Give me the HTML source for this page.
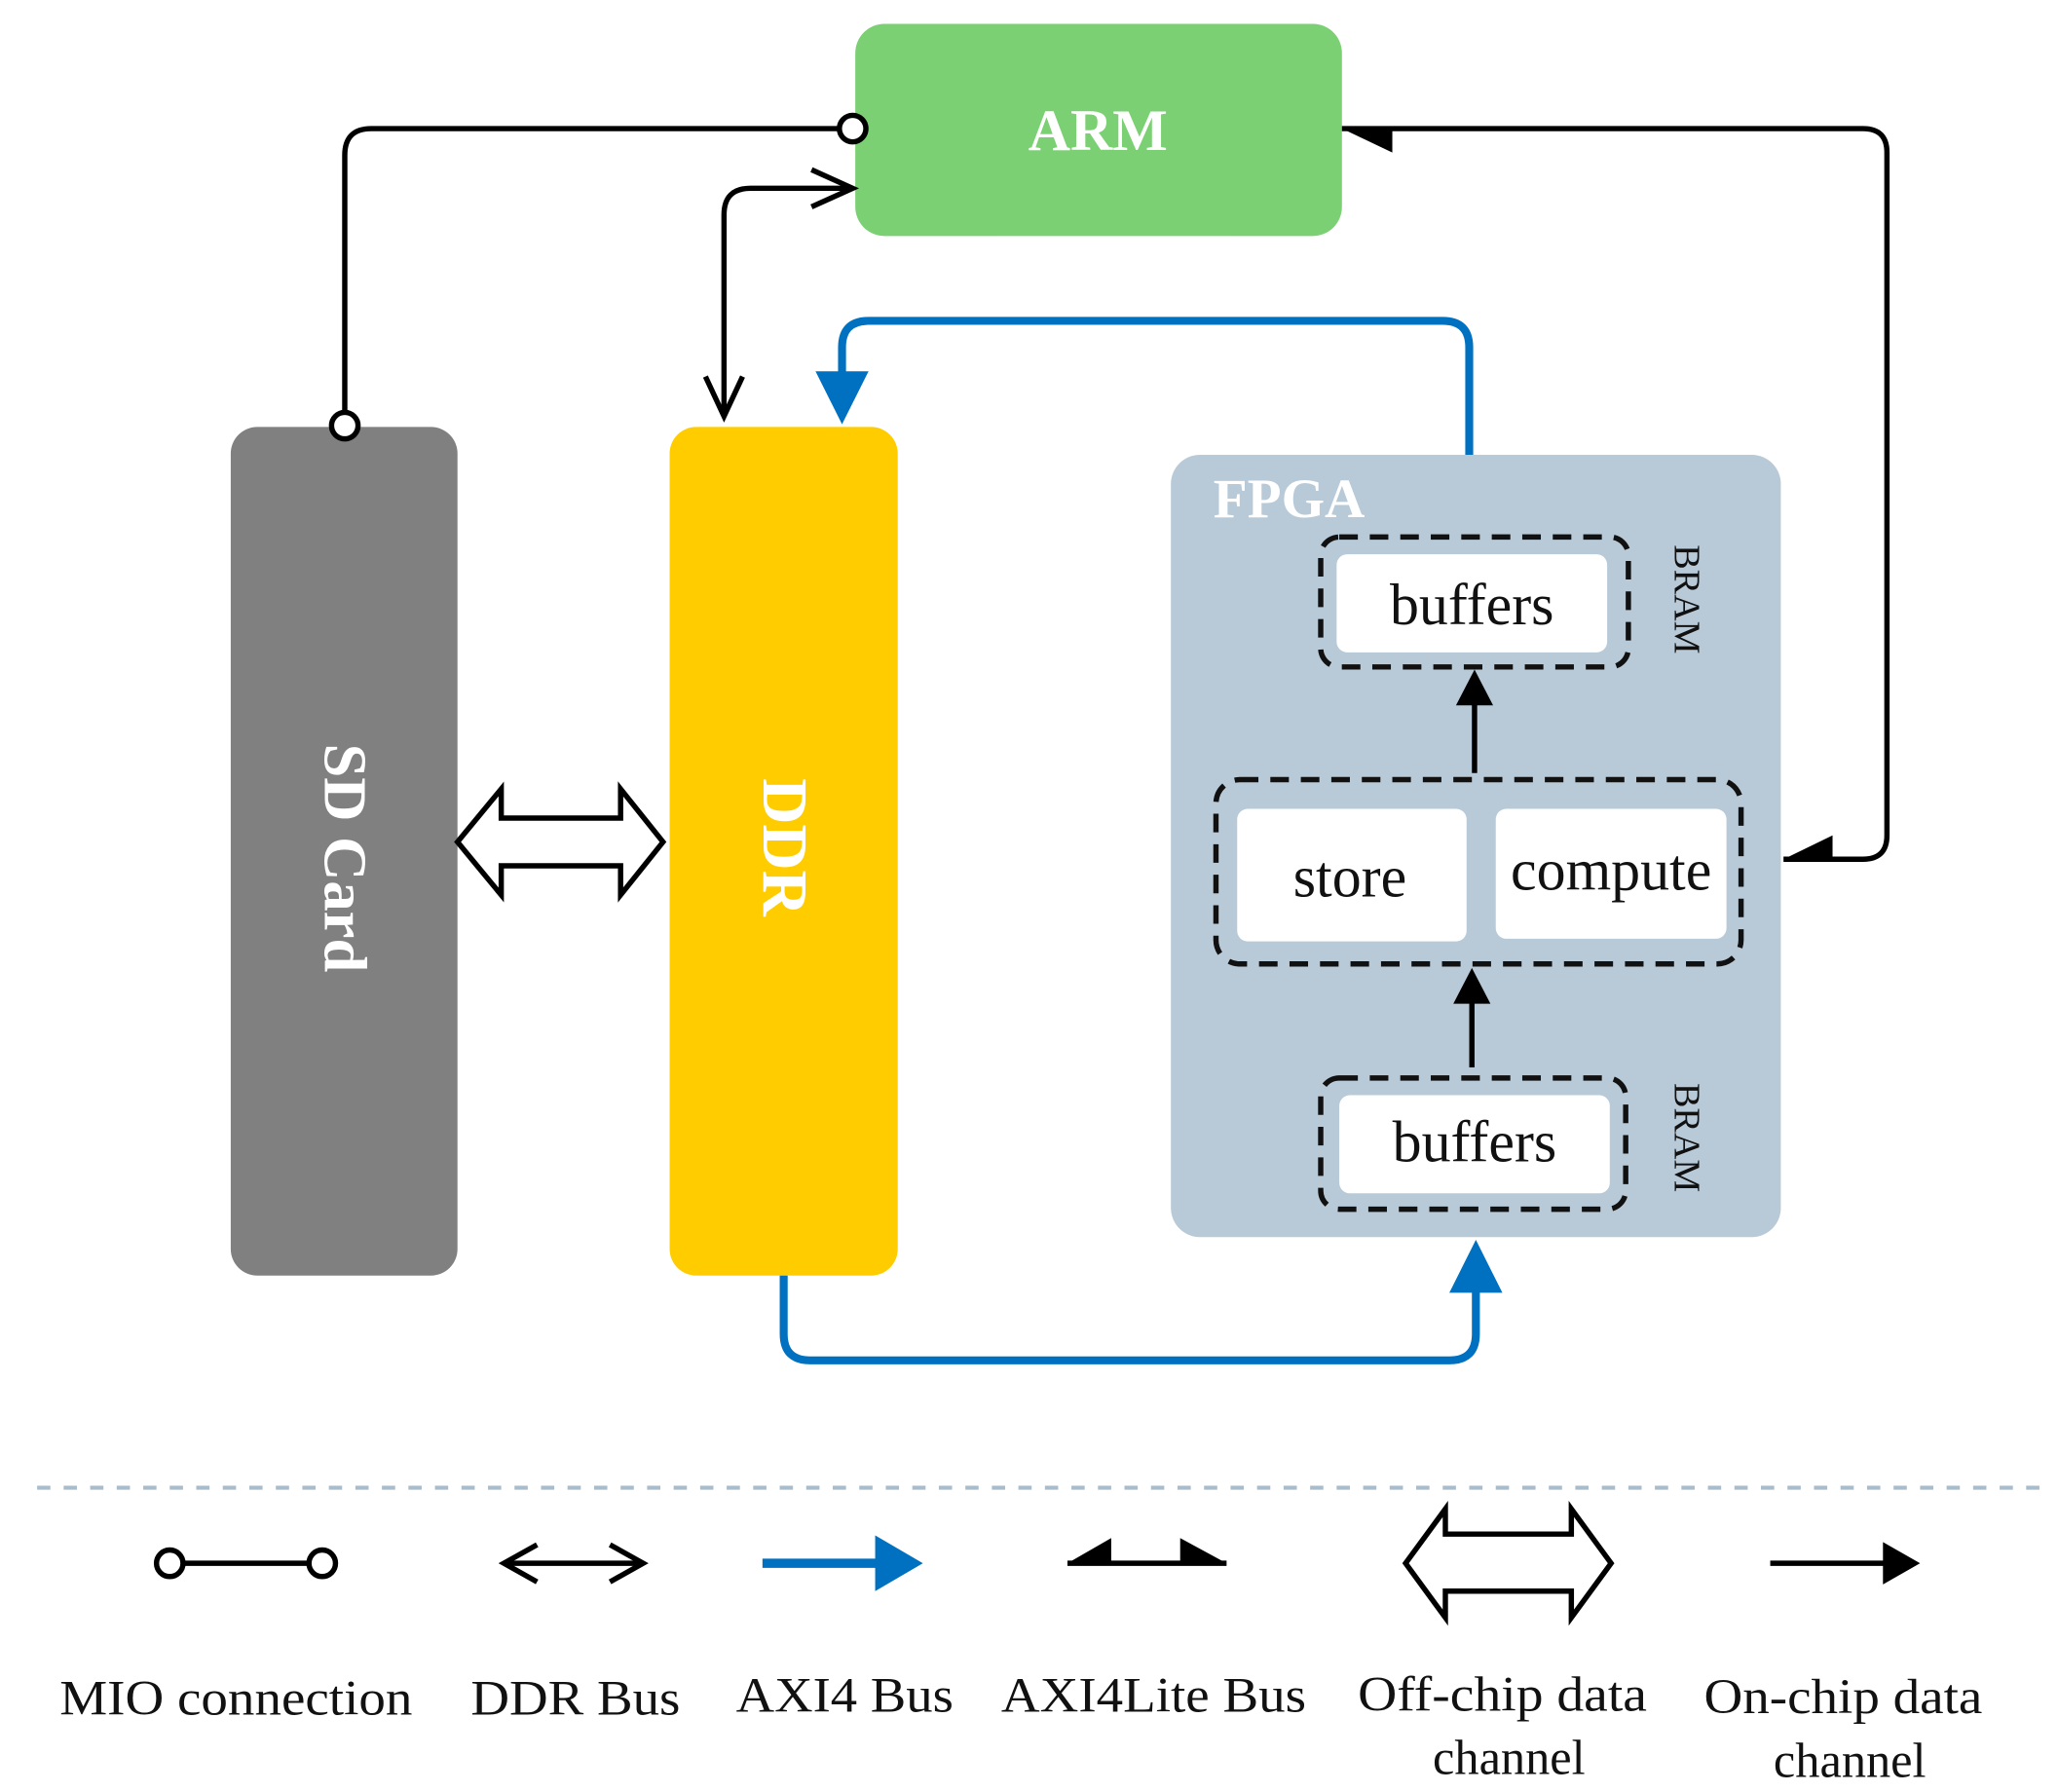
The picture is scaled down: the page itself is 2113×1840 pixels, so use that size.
<!DOCTYPE html>
<html><head><meta charset="utf-8"><style>html,body{margin:0;padding:0;background:#fff}svg{display:block}</style></head>
<body>
<svg width="2113" height="1840" viewBox="0 0 1552 1351.5" xmlns="http://www.w3.org/2000/svg" font-family="Liberation Serif, serif">
<!-- boxes -->
<rect x="645" y="18" width="367" height="160" rx="22" fill="#7bd073"/>
<text x="828" y="113" font-size="44" font-weight="bold" fill="#fff" text-anchor="middle">ARM</text>
<rect x="174" y="322" width="171" height="640" rx="20" fill="#808080"/>
<text transform="translate(245,647) rotate(90)" font-size="46" font-weight="bold" fill="#fff" text-anchor="middle">SD Card</text>
<rect x="505" y="322" width="172" height="640" rx="20" fill="#ffcc00"/>
<text transform="translate(576,639) rotate(90)" font-size="48" font-weight="bold" fill="#fff" text-anchor="middle">DDR</text>
<rect x="883" y="343" width="460" height="590" rx="22" fill="#b8cad8"/>
<text x="915" y="390" font-size="42" font-weight="bold" fill="#fff">FPGA</text>
<!-- inner -->
<g fill="none" stroke="#111" stroke-width="4" stroke-dasharray="14,9">
<rect x="996" y="405" width="232" height="98" rx="14"/>
<rect x="917" y="588" width="396" height="139" rx="18"/>
<rect x="996" y="813" width="230" height="99" rx="14"/>
</g>
<g fill="#fff">
<rect x="1008" y="418" width="204" height="74" rx="8"/>
<rect x="933" y="610" width="173" height="100" rx="8"/>
<rect x="1128" y="610" width="174" height="98" rx="8"/>
<rect x="1010" y="826" width="204" height="74" rx="8"/>
</g>
<g font-size="44" fill="#111" text-anchor="middle">
<text x="1110" y="471">buffers</text>
<text x="1018" y="676">store</text>
<text x="1215" y="671">compute</text>
<text x="1112" y="876">buffers</text>
</g>
<g font-size="28" fill="#111" text-anchor="middle">
<text transform="translate(1263,452) rotate(90)">BRAM</text>
<text transform="translate(1263,858) rotate(90)">BRAM</text>
</g>
<!-- inner arrows -->
<g stroke="#000" stroke-width="4" fill="none">
<path d="M1112,583 V525"/>
<path d="M1110,805 V750"/>
</g>
<polygon points="1098,532 1112,505 1126,532" fill="#000"/>
<polygon points="1096,757 1110,730 1124,757" fill="#000"/>
<!-- MIO -->
<path d="M633,97 H280 Q260,97 260,117 V311" fill="none" stroke="#000" stroke-width="4"/>
<circle cx="643" cy="97" r="10" fill="#fff" stroke="#000" stroke-width="4"/>
<circle cx="260" cy="321" r="10" fill="#fff" stroke="#000" stroke-width="4"/>
<!-- DDR bus -->
<g fill="none" stroke="#000" stroke-width="4">
<path d="M643,142 H566 Q546,142 546,162 V314"/>
<path d="M612,128 L643,142 L612,156"/>
<path d="M532,284 L546,314 L560,284"/>
</g>
<!-- AXI4Lite -->
<path d="M1012,97 H1405 Q1423,97 1423,115 V630 Q1423,648 1405,648 H1345" fill="none" stroke="#000" stroke-width="4"/>
<polygon points="1012,97 1050,97 1050,115" fill="#000"/>
<polygon points="1345,648 1382,648 1382,630" fill="#000"/>
<!-- AXI4 -->
<g fill="none" stroke="#0070c0" stroke-width="6">
<path d="M1108,343 V262 Q1108,242 1088,242 H655 Q635,242 635,262 V290"/>
<path d="M591,962 V1006 Q591,1026 611,1026 H1093 Q1113,1026 1113,1006 V972"/>
</g>
<polygon points="615,280 655,280 635,320" fill="#0070c0"/>
<polygon points="1093,975 1133,975 1113,935" fill="#0070c0"/>
<!-- block double arrow -->
<polygon points="345,635 378,595 378,617 468,617 468,595 500,635 468,675 468,653 378,653 378,675" fill="#fff" stroke="#000" stroke-width="4"/>
<!-- separator -->
<line x1="28" y1="1122" x2="1540" y2="1122" stroke="#a9bccb" stroke-width="3" stroke-dasharray="10,10"/>
<!-- legend -->
<line x1="138" y1="1179" x2="233" y2="1179" stroke="#000" stroke-width="4"/>
<circle cx="128" cy="1179" r="10" fill="#fff" stroke="#000" stroke-width="4"/>
<circle cx="243" cy="1179" r="10" fill="#fff" stroke="#000" stroke-width="4"/>
<g fill="none" stroke="#000" stroke-width="4">
<path d="M380,1179 H485"/><path d="M405,1165 L380,1179 L405,1193"/><path d="M460,1165 L485,1179 L460,1193"/>
</g>
<line x1="575" y1="1179" x2="665" y2="1179" stroke="#0070c0" stroke-width="7"/>
<polygon points="660,1158 660,1200 696,1179" fill="#0070c0"/>
<line x1="805" y1="1179" x2="925" y2="1179" stroke="#000" stroke-width="4"/>
<polygon points="805,1179 838,1179 838,1160" fill="#000"/>
<polygon points="890,1160 890,1179 925,1179" fill="#000"/>
<polygon points="1060,1179 1090,1138 1090,1157 1185,1157 1185,1138 1215,1179 1185,1220 1185,1200 1090,1200 1090,1220" fill="#fff" stroke="#000" stroke-width="4"/>
<line x1="1335" y1="1179" x2="1430" y2="1179" stroke="#000" stroke-width="4"/>
<polygon points="1420,1163 1448,1179 1420,1195" fill="#000"/>
<g font-size="37" fill="#111" text-anchor="middle">
<text x="178" y="1293" textLength="266" lengthAdjust="spacingAndGlyphs">MIO connection</text>
<text x="434" y="1293" textLength="158" lengthAdjust="spacingAndGlyphs">DDR Bus</text>
<text x="637" y="1291" textLength="164" lengthAdjust="spacingAndGlyphs">AXI4 Bus</text>
<text x="870" y="1291" textLength="230" lengthAdjust="spacingAndGlyphs">AXI4Lite Bus</text>
<text x="1133" y="1290" textLength="218" lengthAdjust="spacingAndGlyphs">Off-chip data</text>
<text x="1138" y="1338">channel</text>
<text x="1390" y="1292" textLength="210" lengthAdjust="spacingAndGlyphs">On-chip data</text>
<text x="1395" y="1340">channel</text>
</g>
</svg>
</body></html>
